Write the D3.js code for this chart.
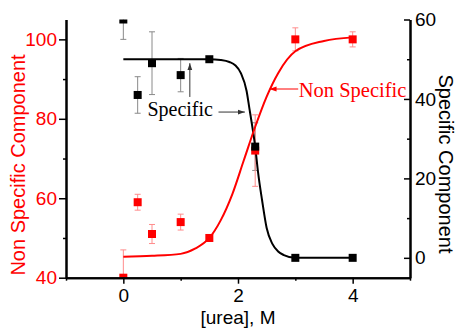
<!DOCTYPE html>
<html>
<head>
<meta charset="utf-8">
<script src="https://cdn.jsdelivr.net/npm/d3@7"></script>
<style>
  body { margin: 0; background: #fff; }
  svg { display: block; }
</style>
</head>
<body>
<div id="chart"></div>
<script>
// measured points
const urea = [0, 0.25, 0.5, 1, 1.5, 2.3, 3, 4];
const specific = [60, 41, 49, 46, 50, 28, 0, 0];
const specificErr = [5, 4.6, 7.9, 4.2, 0, 6, 0, 0];
const nonSpecific = [40, 59, 51, 54, 50, 72, 100, 100];
const nonSpecificErr = [7, 2, 2.4, 2, 0, 9, 2.9, 1.9];

// fitted curves
const specificFitX = [0, 1.5, 1.7, 1.85, 1.95, 2.05, 2.15, 2.2, 2.25, 2.3, 2.35, 2.42, 2.5, 2.6, 2.7, 2.8, 3, 4];
const specificFitY = [50, 50, 49.8, 49.3, 48.5, 46.5, 42, 37.5, 33, 28, 21.5, 14.5, 7.5, 3.5, 1.6, 0.7, 0, 0];
const nonSpecificFitX = [0, 0.5, 1, 1.25, 1.5, 1.7, 1.9, 2.1, 2.3, 2.5, 2.7, 3, 3.5, 4];
const nonSpecificFitY = [45.3, 45.5, 46, 47.3, 50, 54.5, 61, 69.5, 78, 85.6, 91.5, 97, 99.6, 100.5];

// axis ticks
const xTicks = [0, 2, 4];
const xMinor = [-1, 1, 3, 5];
const leftTicks = [40, 60, 80, 100];
const leftMinor = [50, 70, 90];
const rightTicks = [0, 20, 40, 60];
const rightMinor = [10, 30, 50];

const width = 458, height = 329;
const sans = 'Liberation Sans, Arial, sans-serif';
const serif = 'Liberation Serif, Times New Roman, serif';
const red = '#ff0000';

const svg = d3.select('#chart').append('svg')
  .attr('width', width).attr('height', height);

const x = d3.scaleLinear().domain([-1, 5]).range([66, 410]);
const yL = d3.scaleLinear().domain([40, 105]).range([277.7, 19.5]);
const yR = d3.scaleLinear().domain([-5, 60]).range([277.7, 19.5]);

svg.append('defs').append('clipPath').attr('id', 'plot')
  .append('rect')
  .attr('x', x(-1)).attr('y', yL(105))
  .attr('width', x(5) - x(-1)).attr('height', yL(40) - yL(105));

const defs = svg.select('defs');
[['arrowK', '#333'], ['arrowR', red]].forEach(([id, c]) => {
  defs.append('marker').attr('id', id)
    .attr('viewBox', '0 0 10 10').attr('refX', 10).attr('refY', 5)
    .attr('markerWidth', 7).attr('markerHeight', 7)
    .attr('markerUnits', 'userSpaceOnUse')
    .attr('orient', 'auto')
    .append('path').attr('d', 'M0,1.5L10,5L0,8.5z').attr('fill', c);
});

const plot = svg.append('g').attr('clip-path', 'url(#plot)');

// error bars
function errBars(vals, errs, y, color) {
  const g = plot.append('g').attr('stroke', color).attr('stroke-width', 1);
  urea.forEach((u, i) => {
    if (!errs[i]) return;
    const cx = x(u), top = y(vals[i] + errs[i]), bot = y(vals[i] - errs[i]);
    g.append('line').attr('x1', cx).attr('x2', cx).attr('y1', top).attr('y2', bot);
    g.append('line').attr('x1', cx - 3).attr('x2', cx + 3).attr('y1', top).attr('y2', top);
    g.append('line').attr('x1', cx - 3).attr('x2', cx + 3).attr('y1', bot).attr('y2', bot);
  });
}
errBars(specific, specificErr, yR, '#8a8a8a');
errBars(nonSpecific, nonSpecificErr, yL, '#ff8c8c');

// fit lines
const lineK = d3.line().x(d => x(d[0])).y(d => yR(d[1])).curve(d3.curveMonotoneX);
const lineR = d3.line().x(d => x(d[0])).y(d => yL(d[1])).curve(d3.curveMonotoneX);

plot.append('path')
  .attr('d', lineK(d3.zip(specificFitX, specificFitY)))
  .attr('fill', 'none').attr('stroke', '#000').attr('stroke-width', 2);
plot.append('path')
  .attr('d', lineR(d3.zip(nonSpecificFitX, nonSpecificFitY)))
  .attr('fill', 'none').attr('stroke', red).attr('stroke-width', 2);

// squares
const s = 8;
plot.append('g').selectAll('rect').data(urea).join('rect')
  .attr('x', d => x(d) - s / 2)
  .attr('y', (d, i) => yL(nonSpecific[i]) - s / 2)
  .attr('width', s).attr('height', s).attr('fill', red);
plot.append('g').selectAll('rect').data(urea).join('rect')
  .attr('x', d => x(d) - s / 2)
  .attr('y', (d, i) => yR(specific[i]) - s / 2)
  .attr('width', s).attr('height', s).attr('fill', '#000');

// axes
function styleAxis(g, color) {
  g.select('.domain').attr('stroke', '#000').attr('stroke-width', 2);
  g.selectAll('.tick line').attr('stroke', '#000').attr('stroke-width', 1.5);
  g.selectAll('.tick text').attr('fill', color).attr('font-family', sans).attr('font-size', 19);
}

svg.append('g').attr('transform', `translate(0,${yL(40)})`)
  .call(d3.axisBottom(x).tickValues(xMinor).tickSize(3).tickSizeOuter(0).tickFormat(''))
  .call(g => styleAxis(g, '#000'));
svg.append('g').attr('transform', `translate(0,${yL(40)})`)
  .call(d3.axisBottom(x).tickValues(xTicks).tickSize(6).tickPadding(5).tickSizeOuter(0).tickFormat(d3.format('d')))
  .call(g => styleAxis(g, '#000'));

svg.append('g').attr('transform', `translate(${x(-1)},0)`)
  .call(d3.axisLeft(yL).tickValues(leftMinor).tickSize(3).tickSizeOuter(0).tickFormat(''))
  .call(g => styleAxis(g, red));
svg.append('g').attr('transform', `translate(${x(-1)},0)`)
  .call(d3.axisLeft(yL).tickValues(leftTicks).tickSize(7).tickPadding(2).tickSizeOuter(0))
  .call(g => styleAxis(g, red));

svg.append('g').attr('transform', `translate(${x(5)},0)`)
  .call(d3.axisRight(yR).tickValues(rightMinor).tickSize(-3).tickSizeOuter(0).tickFormat(''))
  .call(g => styleAxis(g, '#000'));
svg.append('g').attr('transform', `translate(${x(5)},0)`)
  .call(d3.axisRight(yR).tickValues(rightTicks).tickSizeInner(-6).tickSizeOuter(0).tickPadding(5))
  .call(g => styleAxis(g, '#000'));

// axis titles
svg.append('text')
  .attr('transform', `translate(25,165) rotate(-90)`)
  .attr('text-anchor', 'middle')
  .attr('font-family', sans).attr('font-size', 20).attr('fill', red)
  .text('Non Specific Component');
svg.append('text')
  .attr('transform', `translate(439,164) rotate(90)`)
  .attr('text-anchor', 'middle')
  .attr('font-family', sans).attr('font-size', 20).attr('fill', '#000')
  .text('Specific Component');
svg.append('text')
  .attr('x', (x(-1) + x(5)) / 2).attr('y', 324)
  .attr('text-anchor', 'middle')
  .attr('font-family', sans).attr('font-size', 19).attr('fill', '#000')
  .text('[urea], M');

// annotations
svg.append('text')
  .attr('x', x(0.42)).attr('y', yR(35.8))
  .attr('font-family', serif).attr('font-size', 20).attr('fill', '#000')
  .text('Specific');
svg.append('line')
  .attr('x1', x(1.66)).attr('x2', x(2.12))
  .attr('y1', yR(36.7)).attr('y2', yR(36.7))
  .attr('stroke', '#333').attr('stroke-width', 1)
  .attr('marker-end', 'url(#arrowK)');
svg.append('line')
  .attr('x1', x(1.16)).attr('x2', x(1.16))
  .attr('y1', yR(40.5)).attr('y2', yR(49))
  .attr('stroke', '#333').attr('stroke-width', 1)
  .attr('marker-end', 'url(#arrowK)');

svg.append('text')
  .attr('x', x(3.06)).attr('y', yL(85.6))
  .attr('font-family', serif).attr('font-size', 20.5).attr('fill', red)
  .text('Non Specific');
svg.append('line')
  .attr('x1', x(3.05)).attr('x2', x(2.55))
  .attr('y1', yL(87.5)).attr('y2', yL(87.5))
  .attr('stroke', red).attr('stroke-width', 1)
  .attr('marker-end', 'url(#arrowR)');
</script>
</body>
</html>
